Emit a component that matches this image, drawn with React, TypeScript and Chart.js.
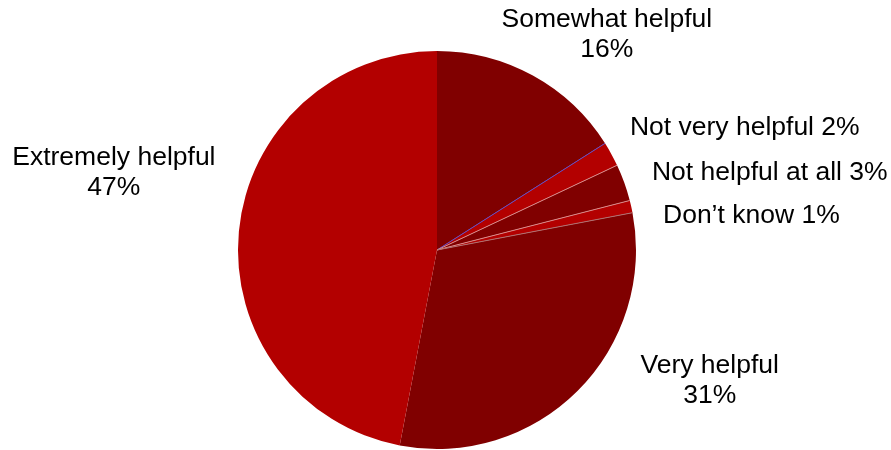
import React, { useEffect, useRef } from "react";
import { Chart, registerables } from "chart.js";

Chart.register(...registerables);

const categories = [
  "Somewhat helpful",
  "Not very helpful",
  "Not helpful at all",
  "Don’t know",
  "Very helpful",
  "Extremely helpful",
];
const values = [16, 2, 3, 1, 31, 47];
const sliceColors = ["#800000", "#b30000", "#800000", "#b30000", "#800000", "#b30000"];
// separator line drawn at the start edge of each slice (null = none)
const edgeColors = [null, "#5a4ccc", "#d88a8a", "#d88a8a", "#b07070", null];
// label layout: [textAlign, dx, dy of first baseline relative to slice mid-point on rim, two lines?]
const labelLayout: [CanvasTextAlign, number, number, boolean][] = [
  ["center", 74, -48.5, true],
  ["left", 18.5, -19.6, false],
  ["left", 27.7, -3, false],
  ["left", 31.8, 16.2, false],
  ["center", 132, -17.5, true],
  ["center", -125, -66.4, true],
];

const labelPlugin = {
  id: "pieLabels",
  afterDatasetsDraw(chart: any) {
    const ctx = chart.ctx;
    const meta = chart.getDatasetMeta(0);
    ctx.save();
    // separators
    meta.data.forEach((arc: any, i: number) => {
      const c = edgeColors[i];
      if (!c) return;
      const { x, y, startAngle, outerRadius } = arc.getProps(["x", "y", "startAngle", "outerRadius"], true);
      ctx.beginPath();
      ctx.moveTo(x, y);
      ctx.lineTo(x + Math.cos(startAngle) * outerRadius, y + Math.sin(startAngle) * outerRadius);
      ctx.strokeStyle = c;
      ctx.lineWidth = 1;
      ctx.stroke();
    });
    // labels
    ctx.fillStyle = "#000000";
    ctx.font = "26.5px 'Liberation Sans', Arial, sans-serif";
    ctx.textBaseline = "alphabetic";
    meta.data.forEach((arc: any, i: number) => {
      const { x, y, startAngle, endAngle, outerRadius } = arc.getProps(
        ["x", "y", "startAngle", "endAngle", "outerRadius"],
        true
      );
      const mid = (startAngle + endAngle) / 2;
      const ax = x + Math.cos(mid) * outerRadius;
      const ay = y + Math.sin(mid) * outerRadius;
      const [align, dx, dy, twoLines] = labelLayout[i];
      ctx.textAlign = align;
      const pct = values[i] + "%";
      if (twoLines) {
        ctx.fillText(categories[i], ax + dx, ay + dy);
        ctx.fillText(pct, ax + dx, ay + dy + 30);
      } else {
        ctx.fillText(categories[i] + " " + pct, ax + dx, ay + dy);
      }
    });
    ctx.restore();
  },
};

export default function App() {
  const ref = useRef<HTMLCanvasElement | null>(null);
  useEffect(() => {
    if (!ref.current) return;
    const chart = new Chart(ref.current, {
      type: "pie",
      data: {
        labels: categories,
        datasets: [
          {
            data: values,
            backgroundColor: sliceColors,
            borderWidth: 0,
          },
        ],
      },
      options: {
        animation: false,
        responsive: false,
        maintainAspectRatio: false,
        layout: { padding: { left: 238, right: 255, top: 51, bottom: 1 } },
        plugins: {
          legend: { display: false },
          tooltip: { enabled: false },
        },
      },
      plugins: [labelPlugin],
    });
    return () => chart.destroy();
  }, []);
  return (
    <div style={{ position: "fixed", left: 0, top: 0, width: 891, height: 450, background: "#fff" }}>
      <canvas ref={ref} width={891} height={450} style={{ width: 891, height: 450 }} />
    </div>
  );
}
